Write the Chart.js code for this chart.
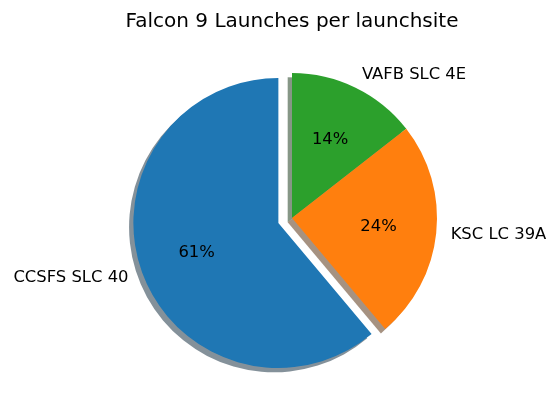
<!DOCTYPE html>
<html>
<head>
<meta charset="utf-8">
<script src="https://cdn.jsdelivr.net/npm/chart.js@4"></script>
<style>
  html, body { margin: 0; padding: 0; background: #ffffff; }
  #wrap { width: 560px; height: 411px; }
</style>
</head>
<body>
<div id="wrap"><canvas id="c" width="560" height="411"></canvas></div>
<script>
// ---- data (matplotlib order: counter-clockwise from 12 o'clock) ----
const titleText = 'Falcon 9 Launches per launchsite';
const sites = ['CCSFS SLC 40', 'KSC LC 39A', 'VAFB SLC 4E'];
const launches = [55, 22, 13];
const sliceColors = ['#1f77b4', '#ff7f0e', '#2ca02c'];
const explode = [0.1, 0, 0];

// Chart.js draws clockwise from the top, so reverse to mimic counter-clockwise order
const cLabels = sites.slice().reverse();
const cValues = launches.slice().reverse();
const cColors = sliceColors.slice().reverse();
const cExplode = explode.slice().reverse();

const total = launches.reduce((a, b) => a + b, 0);
const FONT = '"DejaVu Sans", sans-serif';
const labelSize = 16.4;
const titleSize = 20;
const shadowDX = -4.3, shadowDY = 4.3;

function hexToRgb(h) {
  const n = parseInt(h.slice(1), 16);
  return [(n >> 16) & 255, (n >> 8) & 255, n & 255];
}

const mplPie = {
  id: 'mplPie',
  afterDatasetUpdate(chart, args) {
    args.meta.data.forEach((arc, i) => {
      const e = cExplode[i];
      if (!e || arc._mplWrapped) return;
      const orig = arc.draw;
      arc.draw = function (ctx) {
        const mid = (this.startAngle + this.endAngle) / 2;
        const d = e * this.outerRadius;
        ctx.save();
        ctx.translate(Math.cos(mid) * d, Math.sin(mid) * d);
        orig.call(this, ctx);
        ctx.restore();
      };
      arc._mplWrapped = true;
    });
  },
  beforeDatasetsDraw(chart) {
    const ctx = chart.ctx;
    const meta = chart.getDatasetMeta(0);
    ctx.save();
    meta.data.forEach((arc, i) => {
      const mid = (arc.startAngle + arc.endAngle) / 2;
      const d = cExplode[i] * arc.outerRadius;
      const cx = arc.x + Math.cos(mid) * d + shadowDX;
      const cy = arc.y + Math.sin(mid) * d + shadowDY;
      const [r, g, b] = hexToRgb(cColors[i]);
      ctx.beginPath();
      ctx.moveTo(cx, cy);
      ctx.arc(cx, cy, arc.outerRadius, arc.startAngle, arc.endAngle);
      ctx.closePath();
      ctx.fillStyle = `rgba(${Math.round(r * 0.3)},${Math.round(g * 0.3)},${Math.round(b * 0.3)},0.5)`;
      ctx.fill();
    });
    ctx.restore();
  },
  afterDatasetsDraw(chart) {
    const ctx = chart.ctx;
    const meta = chart.getDatasetMeta(0);
    ctx.save();
    ctx.fillStyle = '#000000';
    ctx.textBaseline = 'alphabetic';
    ctx.font = `${labelSize}px ${FONT}`;
    const base = labelSize * 0.26;
    meta.data.forEach((arc, i) => {
      const mid = (arc.startAngle + arc.endAngle) / 2;
      const R = arc.outerRadius;
      const d = cExplode[i] * R;
      const cx = arc.x + Math.cos(mid) * d;
      const cy = arc.y + Math.sin(mid) * d;
      // category label at 1.1 R
      const lx = cx + Math.cos(mid) * R * 1.1;
      const ly = cy + Math.sin(mid) * R * 1.1;
      ctx.textAlign = lx >= arc.x ? 'left' : 'right';
      ctx.fillText(cLabels[i], lx, ly + base);
      // percentage at 0.6 R
      const px = cx + Math.cos(mid) * R * 0.6;
      const py = cy + Math.sin(mid) * R * 0.6;
      ctx.textAlign = 'center';
      ctx.fillText(Math.round(cValues[i] / total * 100) + '%', px, py + base);
    });
    // title
    ctx.font = `${titleSize}px ${FONT}`;
    ctx.textAlign = 'center';
    const ca = chart.chartArea;
    ctx.fillText(titleText, (ca.left + ca.right) / 2, 27);
    ctx.restore();
  }
};

new Chart(document.getElementById('c'), {
  type: 'pie',
  data: {
    labels: cLabels,
    datasets: [{
      data: cValues,
      backgroundColor: cColors,
      borderWidth: 0,
      radius: 145
    }]
  },
  options: {
    responsive: false,
    animation: false,
    events: [],
    radius: 145,
    layout: { padding: { left: 24, right: 0, top: 25, bottom: 0 } },
    plugins: {
      legend: { display: false },
      title: { display: false },
      tooltip: { enabled: false }
    }
  },
  plugins: [mplPie]
});
</script>
</body>
</html>
